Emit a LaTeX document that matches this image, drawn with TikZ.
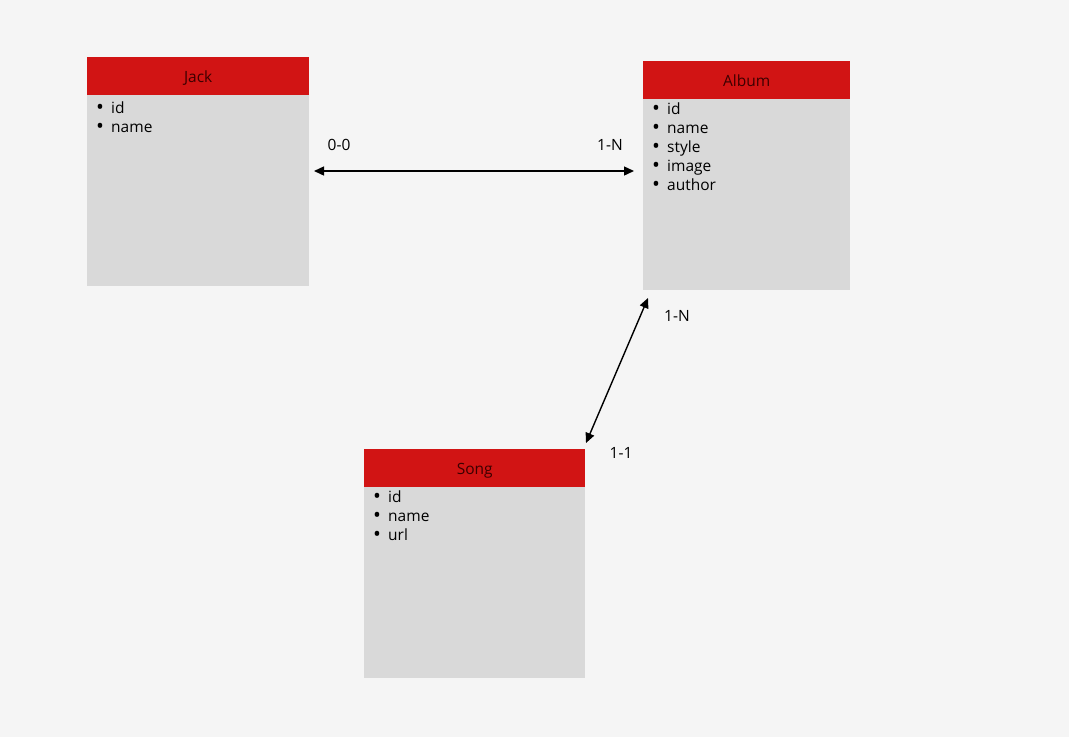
\documentclass[tikz,border=0pt]{standalone}
\usepackage{fontspec}
\setmainfont{Open Sans}
\usetikzlibrary{arrows.meta}
\definecolor{bgc}{HTML}{F5F5F5}
\definecolor{hdrc}{HTML}{D11414}
\definecolor{bodyc}{HTML}{D9D9D9}
\definecolor{hdrtxt}{HTML}{3C0000}
\definecolor{txt}{HTML}{000000}
\newcommand{\bul}{\makebox[15pt][l]{\raisebox{-1.6pt}{\fontsize{21}{18}\selectfont •}}}
\begin{document}
\begin{tikzpicture}[x=1pt,y=-1pt,
  hdr/.style={fill=hdrc, draw=none, inner sep=0pt, anchor=north west, text=hdrtxt,
    text height=12pt, text depth=0pt, font=\fontsize{15.5}{18}\selectfont},
  bodyb/.style={fill=bodyc, draw=none, inner sep=0pt, anchor=north west},
  item/.style={inner sep=0pt, anchor=base west, text=txt, font=\fontsize{15.5}{18}\selectfont},
  lbl/.style={inner sep=0pt, text=txt, font=\fontsize{15.5}{18}\selectfont},
  conn/.style={draw=black, line width=1.4pt, {Triangle[length=10pt,width=9pt]}-{Triangle[length=10pt,width=9pt]}}
]
\fill[bgc] (0,0) rectangle (1069,737);
\useasboundingbox (0,0) rectangle (1069,737);

% Jack
\node[bodyb, minimum width=222pt, minimum height=191pt] (jackb) at (87,95) {};
\node[hdr, minimum width=222pt, minimum height=38pt] (jackh) at (87,57) {Jack};
\foreach \t [count=\i] in {id,name}
  \node[item] (jack\i) at (96,113+19*\i-19) {\bul\t};

% Album
\node[bodyb, minimum width=207pt, minimum height=191pt] (albumb) at (643,99) {};
\node[hdr, minimum width=207pt, minimum height=38pt] (albumh) at (643,61) {Album};
\foreach \t [count=\i] in {id,name,style,image,author}
  \node[item] (album\i) at (652,114+19*\i-19) {\bul\t};

% Song
\node[bodyb, minimum width=221pt, minimum height=191pt] (songb) at (364,487) {};
\node[hdr, minimum width=221pt, minimum height=38pt] (songh) at (364,449) {Song};
\foreach \t [count=\i] in {id,name,url}
  \node[item] (song\i) at (373,502+19*\i-19) {\bul\t};

% connector end points
\coordinate (ja) at (314,171);
\coordinate (aj) at (634,171);
\coordinate (as) at (648,298);
\coordinate (sa) at (586,443);

\draw[conn] (ja) -- (aj);
\draw[conn] (as) -- (sa);

\node[lbl] (l00) at (339,145) {0-0};
\node[lbl] (l1n) at (610,145) {1-N};
\node[lbl] (l1n2) at (677,316) {1-N};
\node[lbl] (l11) at (621,453) {1-1};
\end{tikzpicture}
\end{document}
